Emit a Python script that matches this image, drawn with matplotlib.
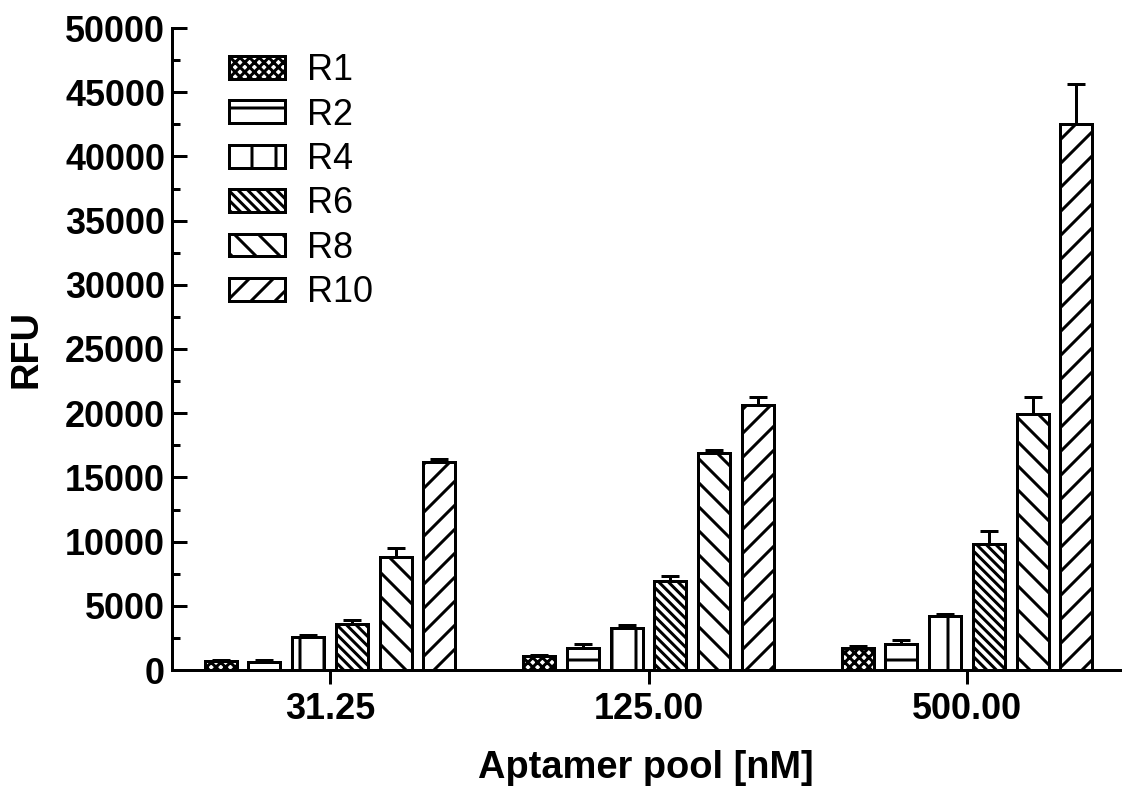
import matplotlib
matplotlib.use("Agg")
import matplotlib.pyplot as plt
import numpy as np

groups = ["31.25", "125.00", "500.00"]
series = ["R1", "R2", "R4", "R6", "R8", "R10"]
values = {
    "R1": [700, 1100, 1700],
    "R2": [650, 1700, 2000],
    "R4": [2600, 3300, 4200],
    "R6": [3600, 6900, 9800],
    "R8": [8800, 16900, 19900],
    "R10": [16200, 20600, 42500],
}
errors = {
    "R1": [100, 100, 150],
    "R2": [100, 300, 350],
    "R4": [100, 200, 150],
    "R6": [300, 400, 1000],
    "R8": [700, 200, 1400],
    "R10": [200, 700, 3100],
}
hatches = {"R1": "xxxxx", "R2": "-", "R4": "|", "R6": "\\\\\\\\\\", "R8": "\\\\", "R10": "//"}

DPI = 144
plt.rcParams["font.family"] = ["Liberation Sans", "DejaVu Sans"]
plt.rcParams["hatch.linewidth"] = 1.5
plt.rcParams["hatch.color"] = "black"

fig = plt.figure(figsize=(1131 / DPI, 787 / DPI), dpi=DPI)
ax = fig.add_axes([172 / 1131, 1 - 670 / 787, (1120 - 172) / 1131, (670 - 28) / 787])

x = np.arange(len(groups))
slot = 0.1373
width = 0.1005
for i, s in enumerate(series):
    pos = x + (i - 2.5) * slot
    v = np.array(values[s])
    e = np.array(errors[s])
    ax.errorbar(pos, v, yerr=[np.zeros_like(e), e], fmt="none", ecolor="black",
                elinewidth=1.5, capsize=4.5, capthick=1.5, zorder=1)
    ax.bar(pos, v, width=width, facecolor="white", edgecolor="black",
           linewidth=1.5, hatch=hatches[s], label=s, zorder=2)

ax.set_xlim(-0.496, 2.48)
ax.set_ylim(0, 50000)
ax.set_yticks(np.arange(0, 50001, 5000))
ax.set_yticks(np.arange(2500, 50000, 5000), minor=True)
ax.set_xticks(x)
ax.set_xticklabels(groups)

for sp in ["top", "right"]:
    ax.spines[sp].set_visible(False)
for sp in ["left", "bottom"]:
    ax.spines[sp].set_linewidth(1.5)

ax.tick_params(axis="y", which="major", direction="in", length=7.5, width=1.5,
               labelsize=18, pad=3.5)
ax.tick_params(axis="y", which="minor", direction="in", length=4, width=1.5)
ax.tick_params(axis="x", which="major", direction="out", length=7, width=1.5,
               labelsize=18, pad=4)
for lab in ax.get_xticklabels() + ax.get_yticklabels():
    lab.set_fontweight("bold")

ax.set_ylabel("RFU", fontsize=19, fontweight="bold", labelpad=10)
ax.set_xlabel("Aptamer pool [nM]", fontsize=19, fontweight="bold", labelpad=11.5)

leg = ax.legend(loc="upper left", bbox_to_anchor=(0.034, 1.0), frameon=False,
                fontsize=18, handlelength=1.55, handleheight=0.6,
                labelspacing=0.26, handletextpad=0.6, borderaxespad=0.3)

fig.savefig("out.png", dpi=DPI)
